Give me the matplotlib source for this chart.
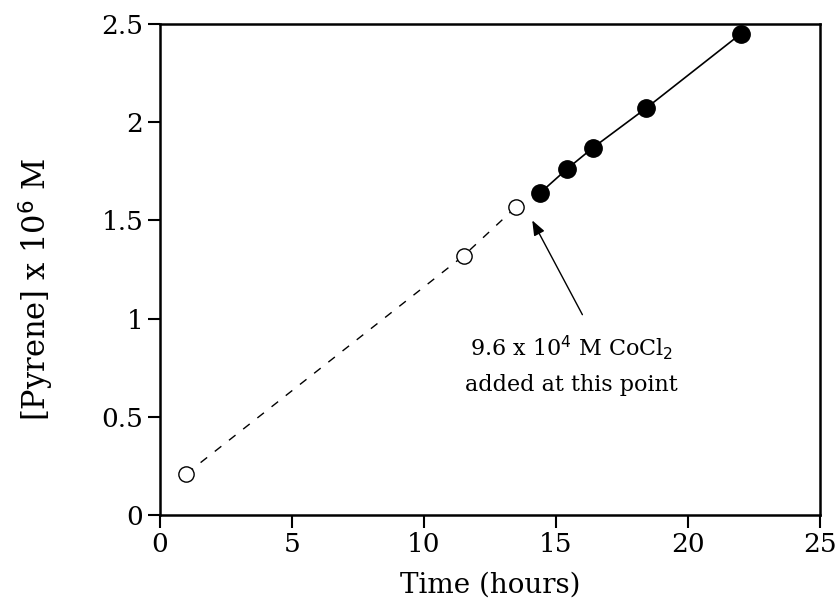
import matplotlib.pyplot as plt

# before CoCl2 addition (open circles)
t_before = [1.0, 11.5, 13.5]
pyr_before = [0.21, 1.32, 1.57]
# after CoCl2 addition (filled circles)
t_after = [14.4, 15.4, 16.4, 18.4, 22.0]
pyr_after = [1.64, 1.76, 1.87, 2.07, 2.45]

xticks = [0, 5, 10, 15, 20, 25]
yticks = [0, 0.5, 1, 1.5, 2, 2.5]
yticklabels = ["0", "0.5", "1", "1.5", "2", "2.5"]

plt.rcParams['font.family'] = ['DejaVu Serif']
fig = plt.figure(figsize=(8.39, 6.05), dpi=100)
ax = fig.add_axes([160 / 839, 1 - 515 / 605, 660 / 839, 491 / 605])

ax.plot(t_before, pyr_before, ls=(0, (6, 7)), color="k", lw=1,
        marker="o", mfc="white", mec="k", ms=11, mew=1)
ax.plot(t_after, pyr_after, ls="-", color="k", lw=1.2,
        marker="o", mfc="k", mec="k", ms=12.5)

ax.set_xlim(0, 25)
ax.set_ylim(0, 2.5)
ax.set_xticks(xticks)
ax.set_yticks(yticks)
ax.set_yticklabels(yticklabels)
ax.tick_params(direction="out", length=9, width=1.5, labelsize=19, pad=3)
for s in ax.spines.values():
    s.set_linewidth(1.8)

ax.set_xlabel("Time (hours)", fontsize=20)
ax.xaxis.set_label_coords(0.5, -0.115)
ax.set_ylabel(r"[Pyrene] x 10$^6$ M", fontsize=22)
ax.yaxis.set_label_coords(-0.157, 0.46)

ax.annotate("", xy=(14.1, 1.5), xytext=(16.0, 1.02),
            arrowprops=dict(arrowstyle="-|>,head_length=0.9,head_width=0.35",
                            color="k", lw=1, shrinkA=0, shrinkB=0))
ax.text(15.6, 0.85, r"9.6 x 10$^4$ M CoCl$_2$", fontsize=16,
        ha="center", va="center")
ax.text(15.6, 0.66, "added at this point", fontsize=16,
        ha="center", va="center")

fig.savefig("out.png", dpi=100)
